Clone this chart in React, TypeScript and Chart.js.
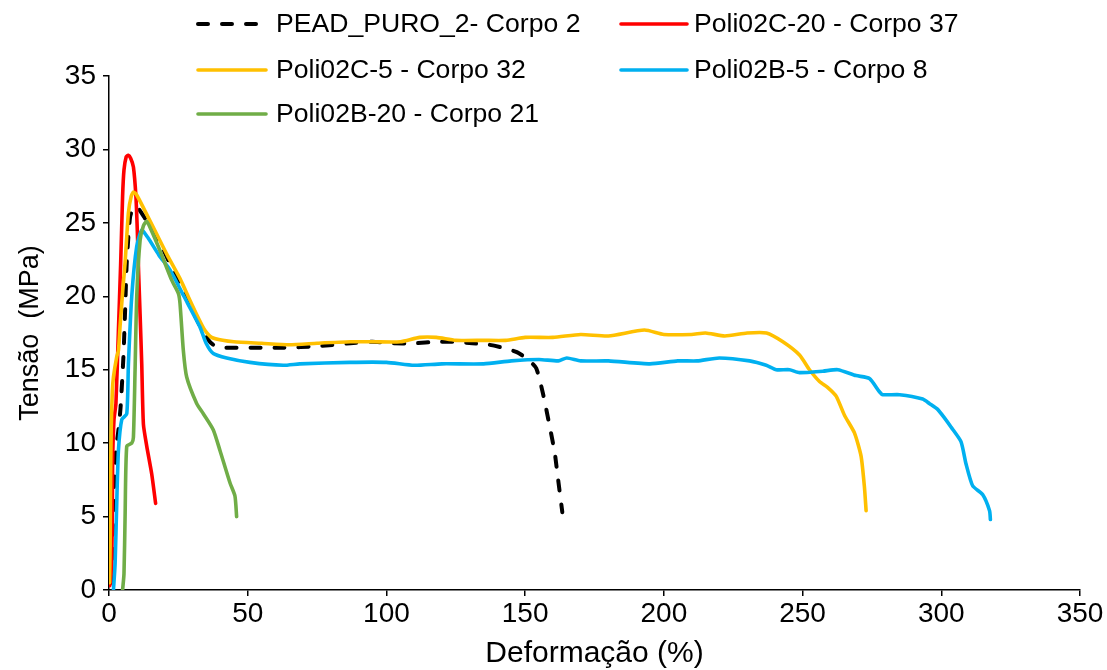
import React, { useEffect, useRef } from "react";
import { Chart, registerables } from "chart.js";

Chart.register(...registerables);

const FONT = "'Liberation Sans', Arial, sans-serif";

const xTickStep = 50;
const yTickStep = 5;
const xMax = 350;
const yMax = 35;

const seriesLabels = [
  "PEAD_PURO_2- Corpo 2",
  "Poli02C-20 - Corpo 37",
  "Poli02C-5 - Corpo 32",
  "Poli02B-5 - Corpo 8",
  "Poli02B-20 - Corpo 21",
];
const seriesColors = ["#000000", "#FF0000", "#FFC000", "#00B0F0", "#70AD47"];

const peadX = [1.0, 1.5, 2.5, 3.4, 4.2, 5.2, 5.8, 6.4, 7.6, 9.0, 10.5, 13.0, 18.0, 22.0, 24.4, 28.0, 32.8, 35.5, 37.6, 41.0, 46.0, 55.0, 63.0, 75.0, 87.0, 95.0, 102.0, 110.0, 118.0, 125.0, 131.0, 137.0, 142.0, 147.0, 151.0, 154.0, 156.4, 158.9, 160.7, 161.9, 163.4];
const peadY = [0.5, 5.5, 9.5, 10.9, 12.5, 15.9, 19.0, 22.3, 25.4, 26.1, 26.0, 25.3, 23.8, 22.2, 21.4, 19.8, 18.0, 17.1, 16.7, 16.5, 16.5, 16.5, 16.5, 16.6, 16.8, 16.9, 16.8, 16.8, 16.9, 16.9, 16.8, 16.7, 16.5, 16.2, 15.7, 15.1, 13.4, 11.1, 9.3, 7.5, 5.3];

const c20X = [0.3, 1.0, 1.3, 1.8, 2.5, 3.4, 4.2, 4.9, 5.4, 6.2, 6.9, 7.8, 8.8, 9.7, 10.2, 10.7, 11.2, 11.8, 12.4, 13.6, 15.4, 16.8];
const c20Y = [0.3, 1.5, 8.6, 11.6, 12.7, 17.7, 22.2, 26.8, 28.6, 29.5, 29.6, 29.4, 28.8, 26.8, 24.5, 21.5, 18.8, 15.4, 11.3, 9.8, 7.9, 5.9];

const c5X = [0.2, 0.4, 0.6, 0.8, 1.2, 1.6, 2.8, 3.4, 4.0, 5.0, 5.8, 7.0, 8.0, 8.8, 10.0, 13.0, 17.0, 21.0, 25.6, 29.0, 32.0, 34.5, 37.0, 41.0, 45.0, 55.0, 65.0, 75.0, 87.0, 95.0, 105.0, 112.0, 118.0, 125.0, 135.0, 143.0, 150.0, 160.0, 170.0, 180.0, 193.0, 200.0, 210.0, 215.0, 222.0, 230.0, 237.0, 242.9, 248.9, 252.5, 256.1, 259.0, 262.1, 265.1, 268.7, 271.1, 272.3, 272.9];
const c5Y = [0.5, 3.0, 8.0, 11.0, 13.5, 14.5, 15.9, 16.3, 18.0, 20.5, 22.3, 25.7, 26.8, 27.1, 26.9, 25.8, 24.3, 22.8, 21.2, 19.8, 18.6, 17.7, 17.2, 17.0, 16.9, 16.8, 16.7, 16.8, 16.9, 16.9, 16.9, 17.2, 17.2, 17.0, 17.0, 17.0, 17.2, 17.2, 17.4, 17.3, 17.7, 17.4, 17.4, 17.5, 17.3, 17.5, 17.5, 16.9, 16.0, 15.0, 14.2, 13.8, 13.2, 11.9, 10.7, 9.1, 7.0, 5.4];

const b5X = [1.6, 2.2, 2.8, 3.4, 4.6, 6.4, 7.0, 8.2, 10.0, 11.8, 14.0, 18.0, 22.0, 27.0, 32.8, 35.0, 37.6, 42.4, 50.8, 62.8, 68.8, 86.8, 100.0, 110.0, 120.0, 135.0, 145.0, 155.0, 162.0, 165.0, 170.0, 180.0, 195.0, 205.0, 212.0, 220.0, 230.9, 236.9, 240.5, 245.3, 248.9, 257.3, 262.7, 269.3, 274.1, 277.7, 278.9, 285.0, 293.3, 295.7, 298.7, 301.2, 303.5, 307.1, 308.9, 311.3, 314.9, 317.4, 317.7];
const b5Y = [0.0, 1.8, 6.0, 9.5, 11.6, 12.0, 15.4, 20.0, 23.4, 24.5, 24.0, 22.8, 21.8, 20.0, 17.9, 16.8, 16.1, 15.8, 15.5, 15.3, 15.4, 15.5, 15.5, 15.3, 15.4, 15.4, 15.6, 15.7, 15.6, 15.8, 15.6, 15.6, 15.4, 15.6, 15.6, 15.8, 15.6, 15.3, 15.0, 15.0, 14.8, 14.9, 15.0, 14.6, 14.4, 13.5, 13.3, 13.3, 13.0, 12.7, 12.3, 11.7, 11.1, 10.1, 8.6, 7.1, 6.5, 5.4, 4.8];

const b20X = [4.9, 5.4, 5.8, 6.4, 8.2, 8.8, 9.4, 10.0, 11.2, 12.4, 13.6, 15.0, 18.4, 22.6, 25.0, 25.6, 26.8, 28.0, 31.6, 34.0, 37.6, 40.0, 43.6, 45.4, 46.0];
const b20Y = [0.0, 1.1, 5.0, 9.8, 10.0, 10.4, 15.0, 20.0, 23.8, 24.8, 25.1, 24.6, 23.1, 21.1, 20.2, 19.5, 16.3, 14.5, 12.7, 12.0, 10.9, 9.5, 7.3, 6.4, 5.0];

const seriesX = [peadX, c20X, c5X, b5X, b20X];
const seriesY = [peadY, c20Y, c5Y, b5Y, b20Y];

const legendSlots = [
  { x1: 198, x2: 266, tx: 276, y: 24 },
  { x1: 621, x2: 687, tx: 694, y: 24 },
  { x1: 198, x2: 266, tx: 276, y: 70 },
  { x1: 621, x2: 687, tx: 694, y: 70 },
  { x1: 198, x2: 266, tx: 276, y: 114 },
];

const legendPlugin = {
  id: "customLegend",
  afterDraw(chart: any) {
    const ctx = chart.ctx;
    ctx.save();
    chart.data.datasets.forEach((ds: any, i: number) => {
      const s = legendSlots[i];
      ctx.beginPath();
      ctx.strokeStyle = ds.borderColor;
      ctx.lineWidth = ds.borderWidth;
      ctx.lineCap = "round";
      ctx.setLineDash(ds.borderDash || []);
      ctx.moveTo(s.x1, s.y);
      ctx.lineTo(s.x2, s.y);
      ctx.stroke();
      ctx.setLineDash([]);
      ctx.fillStyle = "#000";
      ctx.font = `26.6px ${FONT}`;
      ctx.textBaseline = "middle";
      ctx.textAlign = "left";
      ctx.fillText(ds.label, s.tx, s.y + 1);
    });
    ctx.restore();
  },
};

export default function App() {
  const ref = useRef<HTMLCanvasElement>(null);
  useEffect(() => {
    if (!ref.current) return;
    const datasets = seriesLabels.map((label, i) => ({
      label,
      data: seriesX[i].map((x, j) => ({ x, y: seriesY[i][j] })),
      borderColor: seriesColors[i],
      backgroundColor: seriesColors[i],
      borderWidth: i === 0 ? 4 : 3.6,
      borderDash: i === 0 ? [10, 14] : undefined,
      borderCapStyle: "round" as const,
      borderJoinStyle: "round" as const,
      pointRadius: 0,
      tension: 0.2,
      fill: false,
      order: seriesLabels.length - i,
    }));
    const chart = new Chart(ref.current, {
      type: "line",
      data: { datasets: datasets as any },
      options: {
        animation: false,
        responsive: true,
        maintainAspectRatio: false,
        layout: { padding: { left: 0, right: 27, top: 76, bottom: 0 } },
        plugins: { legend: { display: false }, tooltip: { enabled: false } },
        scales: {
          x: {
            type: "linear",
            min: 0,
            max: xMax,
            afterFit: (s: any) => { s.height = 80; },
            ticks: { stepSize: xTickStep, color: "#000", padding: 1, font: { family: FONT, size: 28 } },
            grid: { drawOnChartArea: false, tickLength: 6, color: "#000", lineWidth: 1.5 },
            border: { color: "#000", width: 1.5 },
            title: { display: true, text: "Deformação (%)", color: "#000", font: { family: FONT, size: 30 }, padding: { top: 0, bottom: -2 } },
          },
          y: {
            type: "linear",
            min: 0,
            max: yMax,
            afterFit: (s: any) => { s.width = 109; },
            ticks: { stepSize: yTickStep, color: "#000", padding: 7, font: { family: FONT, size: 28 } },
            grid: { drawOnChartArea: false, tickLength: 6, color: "#000", lineWidth: 1.5 },
            border: { color: "#000", width: 1.5 },
            title: { display: true, text: "Tensão  (MPa)", color: "#000", font: { family: FONT, size: 27 }, padding: { top: 14, bottom: 0 } },
          },
        },
      },
      plugins: [legendPlugin],
    });
    return () => chart.destroy();
  }, []);
  return (
    <div style={{ position: "fixed", left: 0, top: 0, width: 1107, height: 670, background: "#fff" }}>
      <canvas ref={ref} />
    </div>
  );
}
